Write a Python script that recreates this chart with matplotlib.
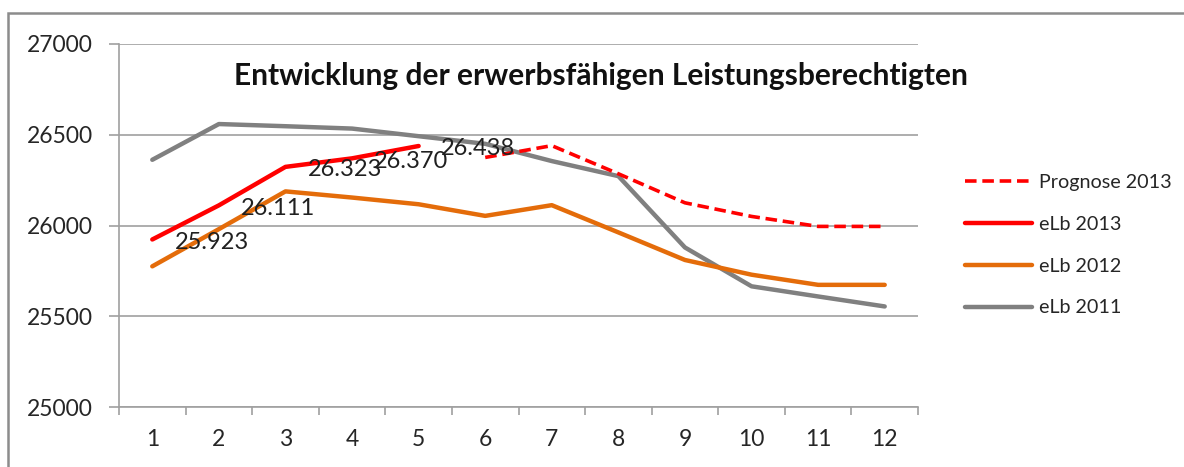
import matplotlib
matplotlib.use("Agg")
import matplotlib.pyplot as plt
from matplotlib.patches import Rectangle

plt.rcParams['font.family'] = ['Lato', 'DejaVu Sans']

months = [1, 2, 3, 4, 5, 6, 7, 8, 9, 10, 11, 12]
prognose_x = [6, 7, 8, 9, 10, 11, 12]
prognose_2013 = [26375, 26440, 26285, 26125, 26050, 25995, 25995]
elb_2013_x = [1, 2, 3, 4, 5]
elb_2013 = [25923, 26111, 26323, 26370, 26438]
elb_2013_labels = ["25.923", "26.111", "26.323", "26.370", "26.438"]
elb_2012 = [25775, 25980, 26188, 26154, 26117, 26053, 26112, 25962, 25810, 25729, 25673, 25673]
elb_2011 = [26362, 26559, 26547, 26534, 26492, 26450, 26355, 26272, 25879, 25665, 25609, 25554]
yticks = [25000, 25500, 26000, 26500, 27000]
title = "Entwicklung der erwerbsfähigen Leistungsberechtigten"

W, H = 1184, 467
fig = plt.figure(figsize=(W / 100, H / 100), dpi=100)
fig.patch.set_facecolor('white')

# outer chart border
fig.patches.append(Rectangle((8 / W, -0.1), 1.2, 1 - 13 / H + 0.1, transform=fig.transFigure,
                             fill=False, edgecolor='#8c8c8c', linewidth=1.8))

ax = fig.add_axes([119 / W, 1 - 407 / H, (918 - 119) / W, (407 - 44) / H])

grid_c = '#a0a0a0'
ax.plot(prognose_x, prognose_2013, color='#ff0000', lw=2.6, dashes=(3.2, 1.6),
        label='Prognose 2013', solid_capstyle='round', zorder=3)
ax.plot(elb_2013_x, elb_2013, color='#ff0000', lw=3.2, label='eLb 2013',
        solid_capstyle='round', zorder=4)
ax.plot(months, elb_2012, color='#e46c0a', lw=3.2, label='eLb 2012',
        solid_capstyle='round', zorder=3)
ax.plot(months, elb_2011, color='#808080', lw=3.2, label='eLb 2011',
        solid_capstyle='round', zorder=2)

for x, y, t in zip(elb_2013_x, elb_2013, elb_2013_labels):
    ax.annotate(t, (x, y), xytext=(16, -2), textcoords='offset points',
                ha='left', va='center', fontsize=17, color='#202020', zorder=5)

ax.set_xlim(0.5, 12.5)
ax.set_ylim(25000, 27000)
ax.set_yticks(yticks)
ax.set_yticklabels([str(v) for v in yticks])
ax.set_xticks(months)
ax.set_xticklabels([str(m) for m in months])
ax.set_xticks([m + 0.5 for m in [0] + months], minor=True)

ax.grid(axis='y', color=grid_c, lw=1.2, zorder=0)
for s in ['top', 'right']:
    ax.spines[s].set_visible(False)
for s in ['left', 'bottom']:
    ax.spines[s].set_color(grid_c)
    ax.spines[s].set_linewidth(1.2)

ax.tick_params(axis='y', length=7, width=1.2, color=grid_c, labelsize=16.5,
               labelcolor='#262626', pad=12)
ax.tick_params(axis='x', which='major', length=0, labelsize=16.5,
               labelcolor='#262626', pad=16)
ax.tick_params(axis='x', which='minor', length=6, width=1.2, color=grid_c,
               direction='out')

fig.text(601 / W, 1 - 76 / H, title, ha='center', va='center', fontsize=21.5,
         fontweight='bold', color='#111111')

handles, labels = ax.get_legend_handles_labels()
leg = fig.legend(handles, labels, loc='upper left', bbox_to_anchor=(955 / W, 1 - 164 / H),
                 frameon=False, fontsize=14.2, handlelength=3.4, handletextpad=0.35,
                 labelspacing=1.26, borderpad=0, labelcolor='#262626')

fig.savefig('out.png', dpi=100, facecolor='white')
